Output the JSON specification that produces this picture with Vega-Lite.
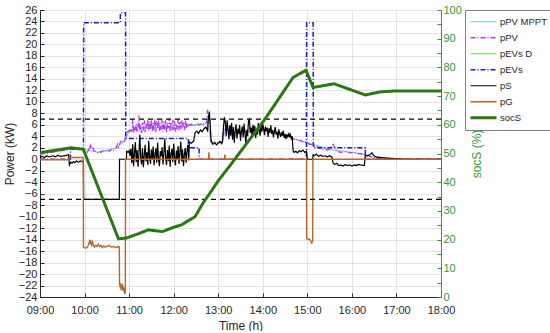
{
  "$schema": "https://vega.github.io/schema/vega-lite/v6.json",
  "width": 401,
  "height": 287,
  "padding": {"left": 3, "top": 4, "right": 0, "bottom": 0},
  "config": {
    "font": "Liberation Sans",
    "view": {"stroke": "#8c8c8c", "strokeWidth": 1},
    "axis": {"labelFont": "Liberation Sans", "titleFont": "Liberation Sans", "labelFontSize": 11, "titleFontSize": 12, "titleFontWeight": "normal", "labelColor": "#262626", "titleColor": "#262626", "gridColor": "#e3e3e3", "gridWidth": 1, "domainColor": "#262626", "tickColor": "#262626", "labelFlush": false, "labelOverlap": false},
    "legend": {"labelFont": "Liberation Sans"}
  },
  "datasets": {
    "power": [
      {"s":"pPV MPPT","t":9.0,"v":0.9},{"s":"pPV MPPT","t":9.68,"v":1.8},{"s":"pPV MPPT","t":9.95,"v":1.8},{"s":"pPV MPPT","t":10.3,"v":1.2},{"s":"pPV MPPT","t":10.7,"v":1.9},{"s":"pPV MPPT","t":10.9,"v":3.2},{"s":"pPV MPPT","t":11.0,"v":5.0},{"s":"pPV MPPT","t":11.5,"v":5.5},{"s":"pPV MPPT","t":12.0,"v":5.6},{"s":"pPV MPPT","t":12.3,"v":5.8},{"s":"pPV MPPT","t":12.7,"v":6.1},{"s":"pPV MPPT","t":12.76,"v":6.5},{"s":"pPV MPPT","t":12.84,"v":3.0},{"s":"pPV MPPT","t":13.0,"v":2.9},{"s":"pPV MPPT","t":13.1,"v":3.0},{"s":"pPV MPPT","t":13.15,"v":5.0},{"s":"pPV MPPT","t":13.5,"v":4.8},{"s":"pPV MPPT","t":14.0,"v":5.0},{"s":"pPV MPPT","t":14.5,"v":4.2},{"s":"pPV MPPT","t":14.66,"v":3.8},{"s":"pPV MPPT","t":14.7,"v":3.5},{"s":"pPV MPPT","t":15.0,"v":2.9},{"s":"pPV MPPT","t":15.5,"v":1.7},{"s":"pPV MPPT","t":16.0,"v":1.2},{"s":"pPV MPPT","t":16.3,"v":0.8},{"s":"pPV MPPT","t":16.5,"v":0.3},{"s":"pPV MPPT","t":17.0,"v":0.05},{"s":"pPV MPPT","t":18.0,"v":0},

      {"s":"pPV","t":9.0,"v":0.9},{"s":"pPV","t":9.2,"v":1.1},{"s":"pPV","t":9.4,"v":1.4},{"s":"pPV","t":9.6,"v":1.6},{"s":"pPV","t":9.68,"v":1.8},{"s":"pPV","t":9.8,"v":1.8},{"s":"pPV","t":9.95,"v":1.8},{"s":"pPV","t":10.0,"v":1.5},{"s":"pPV","t":10.03,"v":1.0},{"s":"pPV","t":10.06,"v":1.2},{"s":"pPV","t":10.09,"v":1.6},{"s":"pPV","t":10.11,"v":2.3},{"s":"pPV","t":10.12,"v":1.8},{"s":"pPV","t":10.14,"v":2.4},{"s":"pPV","t":10.16,"v":1.9},{"s":"pPV","t":10.18,"v":2.2},{"s":"pPV","t":10.21,"v":1.5},{"s":"pPV","t":10.25,"v":1.3},{"s":"pPV","t":10.29,"v":1.1},{"s":"pPV","t":10.33,"v":1.4},{"s":"pPV","t":10.37,"v":1.2},{"s":"pPV","t":10.41,"v":1.5},{"s":"pPV","t":10.45,"v":1.3},{"s":"pPV","t":10.5,"v":1.6},{"s":"pPV","t":10.55,"v":1.4},{"s":"pPV","t":10.6,"v":1.7},{"s":"pPV","t":10.65,"v":1.5},{"s":"pPV","t":10.7,"v":1.9},{"s":"pPV","t":10.74,"v":2.6},{"s":"pPV","t":10.76,"v":2.1},{"s":"pPV","t":10.8,"v":2.9},{"s":"pPV","t":10.83,"v":3.3},{"s":"pPV","t":10.86,"v":2.8},{"s":"pPV","t":10.9,"v":3.2},{"s":"pPV","t":10.93,"v":4.4},{"s":"pPV","t":10.96,"v":4.8},
      {"s":"pPV","t":11.0,"v":5.0},{"s":"pPV","t":11.02,"v":4.6},{"s":"pPV","t":11.04,"v":5.3},{"s":"pPV","t":11.06,"v":4.8},{"s":"pPV","t":11.08,"v":6.9},{"s":"pPV","t":11.1,"v":4.5},{"s":"pPV","t":11.12,"v":5.6},{"s":"pPV","t":11.14,"v":4.9},{"s":"pPV","t":11.16,"v":6.2},{"s":"pPV","t":11.18,"v":4.7},{"s":"pPV","t":11.2,"v":5.5},{"s":"pPV","t":11.22,"v":7.6},{"s":"pPV","t":11.24,"v":4.8},{"s":"pPV","t":11.26,"v":5.9},{"s":"pPV","t":11.28,"v":4.6},{"s":"pPV","t":11.3,"v":6.4},{"s":"pPV","t":11.32,"v":5.0},{"s":"pPV","t":11.34,"v":6.8},{"s":"pPV","t":11.36,"v":4.7},{"s":"pPV","t":11.38,"v":6.1},{"s":"pPV","t":11.4,"v":5.2},{"s":"pPV","t":11.42,"v":7.0},{"s":"pPV","t":11.44,"v":4.9},{"s":"pPV","t":11.46,"v":6.5},{"s":"pPV","t":11.48,"v":5.1},{"s":"pPV","t":11.5,"v":6.9},{"s":"pPV","t":11.52,"v":4.8},{"s":"pPV","t":11.54,"v":6.3},{"s":"pPV","t":11.56,"v":5.0},{"s":"pPV","t":11.58,"v":7.1},{"s":"pPV","t":11.6,"v":4.7},{"s":"pPV","t":11.62,"v":6.6},{"s":"pPV","t":11.64,"v":5.3},{"s":"pPV","t":11.66,"v":6.9},{"s":"pPV","t":11.68,"v":4.9},{"s":"pPV","t":11.7,"v":6.2},{"s":"pPV","t":11.72,"v":5.1},{"s":"pPV","t":11.74,"v":7.0},{"s":"pPV","t":11.76,"v":4.8},{"s":"pPV","t":11.78,"v":6.5},{"s":"pPV","t":11.8,"v":5.2},{"s":"pPV","t":11.82,"v":6.8},{"s":"pPV","t":11.84,"v":4.6},{"s":"pPV","t":11.86,"v":6.4},{"s":"pPV","t":11.88,"v":5.4},{"s":"pPV","t":11.9,"v":7.1},{"s":"pPV","t":11.92,"v":4.9},{"s":"pPV","t":11.94,"v":6.3},{"s":"pPV","t":11.96,"v":5.0},{"s":"pPV","t":11.98,"v":6.9},{"s":"pPV","t":12.0,"v":5.1},{"s":"pPV","t":12.02,"v":6.6},{"s":"pPV","t":12.04,"v":4.8},{"s":"pPV","t":12.06,"v":6.2},{"s":"pPV","t":12.08,"v":5.3},{"s":"pPV","t":12.1,"v":6.9},{"s":"pPV","t":12.12,"v":5.0},{"s":"pPV","t":12.14,"v":6.5},{"s":"pPV","t":12.16,"v":5.2},{"s":"pPV","t":12.18,"v":6.8},{"s":"pPV","t":12.2,"v":5.4},{"s":"pPV","t":12.22,"v":6.4},{"s":"pPV","t":12.24,"v":5.1},{"s":"pPV","t":12.26,"v":6.7},{"s":"pPV","t":12.28,"v":5.3},{"s":"pPV","t":12.3,"v":6.3},{"s":"pPV","t":12.32,"v":5.6},{"s":"pPV","t":12.34,"v":6.0},{"s":"pPV","t":12.4,"v":6.1},{"s":"pPV","t":12.46,"v":5.9},{"s":"pPV","t":12.52,"v":6.2},{"s":"pPV","t":12.58,"v":6.0},{"s":"pPV","t":12.64,"v":6.3},{"s":"pPV","t":12.7,"v":6.1},{"s":"pPV","t":12.74,"v":6.5},{"s":"pPV","t":12.76,"v":8.6},{"s":"pPV","t":12.78,"v":6.9},{"s":"pPV","t":12.8,"v":7.5},{"s":"pPV","t":12.82,"v":5.5},{"s":"pPV","t":12.84,"v":3.0},{"s":"pPV","t":12.9,"v":2.8},{"s":"pPV","t":13.0,"v":2.9},{"s":"pPV","t":13.08,"v":2.9},{"s":"pPV","t":13.12,"v":5.0},{"s":"pPV","t":13.16,"v":5.5},{"s":"pPV","t":13.2,"v":5.2},{"s":"pPV","t":13.3,"v":4.8},{"s":"pPV","t":13.4,"v":4.9},{"s":"pPV","t":13.5,"v":4.6},{"s":"pPV","t":13.6,"v":4.7},{"s":"pPV","t":13.7,"v":5.4},{"s":"pPV","t":13.8,"v":5.2},{"s":"pPV","t":13.9,"v":5.0},{"s":"pPV","t":14.0,"v":5.3},{"s":"pPV","t":14.1,"v":4.9},{"s":"pPV","t":14.2,"v":4.8},{"s":"pPV","t":14.3,"v":4.6},{"s":"pPV","t":14.4,"v":4.3},{"s":"pPV","t":14.5,"v":4.1},{"s":"pPV","t":14.6,"v":4.0},{"s":"pPV","t":14.66,"v":3.8},{"s":"pPV","t":14.68,"v":3.6},{"s":"pPV","t":14.72,"v":3.4},{"s":"pPV","t":14.76,"v":3.5},{"s":"pPV","t":14.8,"v":3.2},{"s":"pPV","t":14.85,"v":3.3},{"s":"pPV","t":14.9,"v":3.0},{"s":"pPV","t":14.95,"v":3.1},{"s":"pPV","t":15.0,"v":2.9},{"s":"pPV","t":15.05,"v":2.6},{"s":"pPV","t":15.1,"v":2.5},{"s":"pPV","t":15.15,"v":2.3},{"s":"pPV","t":15.2,"v":2.4},{"s":"pPV","t":15.25,"v":2.0},{"s":"pPV","t":15.3,"v":1.9},{"s":"pPV","t":15.35,"v":1.7},{"s":"pPV","t":15.4,"v":1.8},{"s":"pPV","t":15.45,"v":1.6},{"s":"pPV","t":15.5,"v":1.7},{"s":"pPV","t":15.55,"v":2.4},{"s":"pPV","t":15.58,"v":2.6},{"s":"pPV","t":15.62,"v":1.9},{"s":"pPV","t":15.66,"v":1.4},{"s":"pPV","t":15.75,"v":1.2},{"s":"pPV","t":15.85,"v":1.3},{"s":"pPV","t":15.95,"v":1.1},{"s":"pPV","t":16.05,"v":1.2},{"s":"pPV","t":16.15,"v":1.0},{"s":"pPV","t":16.25,"v":0.9},{"s":"pPV","t":16.3,"v":0.8},{"s":"pPV","t":16.4,"v":0.5},{"s":"pPV","t":16.5,"v":0.3},{"s":"pPV","t":16.6,"v":0.2},{"s":"pPV","t":16.8,"v":0.1},{"s":"pPV","t":17.0,"v":0.05},{"s":"pPV","t":18.0,"v":0.0},

      {"s":"pEVs","t":9.0,"v":0},{"s":"pEVs","t":9.68,"v":0},{"s":"pEVs","t":9.685,"v":1.8},{"s":"pEVs","t":9.975,"v":1.8},{"s":"pEVs","t":9.98,"v":23.8},{"s":"pEVs","t":10.8,"v":23.8},{"s":"pEVs","t":10.805,"v":25.5},{"s":"pEVs","t":10.92,"v":25.5},{"s":"pEVs","t":10.925,"v":3.6},{"s":"pEVs","t":12.33,"v":3.6},{"s":"pEVs","t":12.335,"v":2.0},{"s":"pEVs","t":12.57,"v":2.0},{"s":"pEVs","t":12.575,"v":0},{"s":"pEVs","t":14.98,"v":0},{"s":"pEVs","t":14.985,"v":23.8},{"s":"pEVs","t":15.13,"v":23.8},{"s":"pEVs","t":15.135,"v":2.0},{"s":"pEVs","t":16.3,"v":2.0},{"s":"pEVs","t":16.305,"v":0},{"s":"pEVs","t":18.0,"v":0},

      {"s":"pS","t":9.0,"v":0.3},{"s":"pS","t":9.05,"v":0.5},{"s":"pS","t":9.1,"v":0.3},{"s":"pS","t":9.15,"v":0.6},{"s":"pS","t":9.2,"v":0.4},{"s":"pS","t":9.25,"v":0.5},{"s":"pS","t":9.3,"v":0.6},{"s":"pS","t":9.35,"v":0.4},{"s":"pS","t":9.4,"v":0.7},{"s":"pS","t":9.45,"v":0.5},{"s":"pS","t":9.55,"v":0.6},{"s":"pS","t":9.64,"v":0.8},{"s":"pS","t":9.66,"v":-1.0},{"s":"pS","t":9.69,"v":-0.5},{"s":"pS","t":9.72,"v":-0.7},{"s":"pS","t":9.75,"v":-0.4},{"s":"pS","t":9.78,"v":-0.6},{"s":"pS","t":9.82,"v":-0.3},{"s":"pS","t":9.86,"v":-0.5},{"s":"pS","t":9.9,"v":-0.3},{"s":"pS","t":9.94,"v":-0.4},{"s":"pS","t":9.975,"v":-0.3},{"s":"pS","t":9.98,"v":-7.0},{"s":"pS","t":10.78,"v":-7.0},{"s":"pS","t":10.785,"v":0.0},{"s":"pS","t":10.94,"v":0.0},{"s":"pS","t":10.945,"v":1.4},{"s":"pS","t":10.98,"v":1.2},
      {"s":"pS","t":11.0,"v":1.5},{"s":"pS","t":11.02,"v":0.6},{"s":"pS","t":11.04,"v":1.8},{"s":"pS","t":11.06,"v":-0.7},{"s":"pS","t":11.08,"v":2.6},{"s":"pS","t":11.1,"v":-1.2},{"s":"pS","t":11.12,"v":1.1},{"s":"pS","t":11.14,"v":3.0},{"s":"pS","t":11.16,"v":-0.5},{"s":"pS","t":11.18,"v":1.6},{"s":"pS","t":11.2,"v":-1.3},{"s":"pS","t":11.22,"v":0.9},{"s":"pS","t":11.24,"v":4.3},{"s":"pS","t":11.26,"v":0.2},{"s":"pS","t":11.28,"v":-0.9},{"s":"pS","t":11.3,"v":1.9},{"s":"pS","t":11.32,"v":-1.4},{"s":"pS","t":11.34,"v":0.7},{"s":"pS","t":11.36,"v":2.5},{"s":"pS","t":11.38,"v":-0.4},{"s":"pS","t":11.4,"v":1.2},{"s":"pS","t":11.42,"v":-1.0},{"s":"pS","t":11.44,"v":3.2},{"s":"pS","t":11.46,"v":0.3},{"s":"pS","t":11.48,"v":-0.8},{"s":"pS","t":11.5,"v":1.7},{"s":"pS","t":11.52,"v":0.1},{"s":"pS","t":11.54,"v":2.2},{"s":"pS","t":11.56,"v":-1.1},{"s":"pS","t":11.58,"v":0.8},{"s":"pS","t":11.6,"v":1.9},{"s":"pS","t":11.62,"v":-0.6},{"s":"pS","t":11.64,"v":2.9},{"s":"pS","t":11.66,"v":0.0},{"s":"pS","t":11.68,"v":-1.2},{"s":"pS","t":11.7,"v":1.4},{"s":"pS","t":11.72,"v":0.5},{"s":"pS","t":11.74,"v":2.1},{"s":"pS","t":11.76,"v":-0.9},{"s":"pS","t":11.78,"v":1.0},{"s":"pS","t":11.8,"v":3.6},{"s":"pS","t":11.82,"v":0.2},{"s":"pS","t":11.84,"v":-1.0},{"s":"pS","t":11.86,"v":1.6},{"s":"pS","t":11.88,"v":-0.3},{"s":"pS","t":11.9,"v":2.4},{"s":"pS","t":11.92,"v":-1.3},{"s":"pS","t":11.94,"v":0.9},{"s":"pS","t":11.96,"v":1.8},{"s":"pS","t":11.98,"v":-0.5},{"s":"pS","t":12.0,"v":2.7},{"s":"pS","t":12.02,"v":0.4},{"s":"pS","t":12.04,"v":-1.1},{"s":"pS","t":12.06,"v":1.5},{"s":"pS","t":12.08,"v":0.0},{"s":"pS","t":12.1,"v":2.3},{"s":"pS","t":12.12,"v":-0.8},{"s":"pS","t":12.14,"v":1.2},{"s":"pS","t":12.16,"v":3.1},{"s":"pS","t":12.18,"v":-0.4},{"s":"pS","t":12.2,"v":1.7},{"s":"pS","t":12.22,"v":-1.2},{"s":"pS","t":12.24,"v":0.8},{"s":"pS","t":12.26,"v":2.0},{"s":"pS","t":12.28,"v":-0.6},{"s":"pS","t":12.3,"v":1.4},{"s":"pS","t":12.32,"v":2.5},{"s":"pS","t":12.34,"v":-0.2},{"s":"pS","t":12.35,"v":3.0},{"s":"pS","t":12.4,"v":2.8},{"s":"pS","t":12.45,"v":3.2},{"s":"pS","t":12.48,"v":4.6},{"s":"pS","t":12.52,"v":4.9},{"s":"pS","t":12.56,"v":4.5},{"s":"pS","t":12.6,"v":5.1},{"s":"pS","t":12.64,"v":4.8},{"s":"pS","t":12.68,"v":5.3},{"s":"pS","t":12.72,"v":5.6},{"s":"pS","t":12.76,"v":5.0},{"s":"pS","t":12.78,"v":7.2},{"s":"pS","t":12.8,"v":8.3},{"s":"pS","t":12.82,"v":6.0},{"s":"pS","t":12.84,"v":3.2},{"s":"pS","t":12.88,"v":2.6},{"s":"pS","t":12.92,"v":2.9},{"s":"pS","t":12.96,"v":2.5},{"s":"pS","t":13.0,"v":2.8},{"s":"pS","t":13.04,"v":3.1},{"s":"pS","t":13.08,"v":2.7},{"s":"pS","t":13.1,"v":3.4},{"s":"pS","t":13.12,"v":5.8},{"s":"pS","t":13.14,"v":7.3},{"s":"pS","t":13.16,"v":6.4},{"s":"pS","t":13.18,"v":4.0},{"s":"pS","t":13.2,"v":6.8},{"s":"pS","t":13.22,"v":5.2},{"s":"pS","t":13.24,"v":3.5},{"s":"pS","t":13.26,"v":5.9},{"s":"pS","t":13.28,"v":4.1},{"s":"pS","t":13.3,"v":6.3},{"s":"pS","t":13.32,"v":3.4},{"s":"pS","t":13.34,"v":5.6},{"s":"pS","t":13.36,"v":2.9},{"s":"pS","t":13.38,"v":4.8},{"s":"pS","t":13.4,"v":6.1},{"s":"pS","t":13.42,"v":3.6},{"s":"pS","t":13.44,"v":5.3},{"s":"pS","t":13.46,"v":4.4},{"s":"pS","t":13.48,"v":6.0},{"s":"pS","t":13.5,"v":3.2},{"s":"pS","t":13.52,"v":4.9},{"s":"pS","t":13.54,"v":5.7},{"s":"pS","t":13.56,"v":3.8},{"s":"pS","t":13.58,"v":6.2},{"s":"pS","t":13.6,"v":4.5},{"s":"pS","t":13.62,"v":2.7},{"s":"pS","t":13.64,"v":5.1},{"s":"pS","t":13.66,"v":4.0},{"s":"pS","t":13.68,"v":6.8},{"s":"pS","t":13.7,"v":7.0},{"s":"pS","t":13.72,"v":4.6},{"s":"pS","t":13.74,"v":5.5},{"s":"pS","t":13.76,"v":3.9},{"s":"pS","t":13.78,"v":6.0},{"s":"pS","t":13.8,"v":4.7},{"s":"pS","t":13.82,"v":5.8},{"s":"pS","t":13.84,"v":3.7},{"s":"pS","t":13.86,"v":5.2},{"s":"pS","t":13.88,"v":4.3},{"s":"pS","t":13.9,"v":6.3},{"s":"pS","t":13.92,"v":5.0},{"s":"pS","t":13.94,"v":4.1},{"s":"pS","t":13.96,"v":5.9},{"s":"pS","t":13.98,"v":4.8},{"s":"pS","t":14.0,"v":6.1},{"s":"pS","t":14.02,"v":5.3},{"s":"pS","t":14.04,"v":4.2},{"s":"pS","t":14.06,"v":5.7},{"s":"pS","t":14.08,"v":4.9},{"s":"pS","t":14.1,"v":5.5},{"s":"pS","t":14.12,"v":3.9},{"s":"pS","t":14.14,"v":5.4},{"s":"pS","t":14.16,"v":4.6},{"s":"pS","t":14.18,"v":5.9},{"s":"pS","t":14.2,"v":4.4},{"s":"pS","t":14.22,"v":5.1},{"s":"pS","t":14.24,"v":3.8},{"s":"pS","t":14.26,"v":4.9},{"s":"pS","t":14.28,"v":5.6},{"s":"pS","t":14.3,"v":4.3},{"s":"pS","t":14.32,"v":4.8},{"s":"pS","t":14.34,"v":3.6},{"s":"pS","t":14.36,"v":5.2},{"s":"pS","t":14.38,"v":4.5},{"s":"pS","t":14.4,"v":3.9},{"s":"pS","t":14.42,"v":4.7},{"s":"pS","t":14.44,"v":4.1},{"s":"pS","t":14.46,"v":5.0},{"s":"pS","t":14.48,"v":3.7},{"s":"pS","t":14.5,"v":4.4},{"s":"pS","t":14.52,"v":3.5},{"s":"pS","t":14.54,"v":4.2},{"s":"pS","t":14.56,"v":3.9},{"s":"pS","t":14.58,"v":4.6},{"s":"pS","t":14.6,"v":3.8},{"s":"pS","t":14.62,"v":4.3},{"s":"pS","t":14.64,"v":3.6},{"s":"pS","t":14.66,"v":4.0},{"s":"pS","t":14.68,"v":1.5},{"s":"pS","t":14.7,"v":1.2},{"s":"pS","t":14.74,"v":1.4},{"s":"pS","t":14.78,"v":1.1},{"s":"pS","t":14.82,"v":1.5},{"s":"pS","t":14.86,"v":1.3},{"s":"pS","t":14.9,"v":1.6},{"s":"pS","t":14.94,"v":1.2},{"s":"pS","t":14.98,"v":1.4},{"s":"pS","t":15.0,"v":0.0},{"s":"pS","t":15.12,"v":0.0},{"s":"pS","t":15.13,"v":0.8},{"s":"pS","t":15.16,"v":0.6},{"s":"pS","t":15.2,"v":0.9},{"s":"pS","t":15.25,"v":0.5},{"s":"pS","t":15.3,"v":0.7},{"s":"pS","t":15.35,"v":0.5},{"s":"pS","t":15.4,"v":0.6},{"s":"pS","t":15.45,"v":0.4},{"s":"pS","t":15.5,"v":0.6},{"s":"pS","t":15.55,"v":0.4},{"s":"pS","t":15.58,"v":-0.7},{"s":"pS","t":15.62,"v":-0.9},{"s":"pS","t":15.66,"v":-0.7},{"s":"pS","t":15.7,"v":-1.1},{"s":"pS","t":15.75,"v":-1.0},{"s":"pS","t":15.8,"v":-1.2},{"s":"pS","t":15.85,"v":-0.9},{"s":"pS","t":15.9,"v":-1.1},{"s":"pS","t":15.95,"v":-1.0},{"s":"pS","t":16.0,"v":-1.2},{"s":"pS","t":16.05,"v":-1.0},{"s":"pS","t":16.1,"v":-1.1},{"s":"pS","t":16.15,"v":-0.9},{"s":"pS","t":16.2,"v":-1.0},{"s":"pS","t":16.28,"v":-1.1},{"s":"pS","t":16.3,"v":0.7},{"s":"pS","t":16.35,"v":0.6},{"s":"pS","t":16.4,"v":0.8},{"s":"pS","t":16.45,"v":1.1},{"s":"pS","t":16.5,"v":0.6},{"s":"pS","t":16.55,"v":0.4},{"s":"pS","t":16.65,"v":0.3},{"s":"pS","t":16.8,"v":0.2},{"s":"pS","t":17.0,"v":0.1},{"s":"pS","t":17.2,"v":0.0},{"s":"pS","t":18.0,"v":0.0},

      {"s":"pG","t":9.0,"v":-0.1},{"s":"pG","t":9.64,"v":-0.1},{"s":"pG","t":9.66,"v":0.3},{"s":"pG","t":9.97,"v":0.3},{"s":"pG","t":9.975,"v":-15.3},{"s":"pG","t":10.02,"v":-15.5},{"s":"pG","t":10.05,"v":-15.4},{"s":"pG","t":10.08,"v":-15.1},{"s":"pG","t":10.1,"v":-14.6},{"s":"pG","t":10.12,"v":-14.0},{"s":"pG","t":10.13,"v":-14.8},{"s":"pG","t":10.14,"v":-14.2},{"s":"pG","t":10.16,"v":-14.9},{"s":"pG","t":10.18,"v":-14.4},{"s":"pG","t":10.2,"v":-15.1},{"s":"pG","t":10.22,"v":-15.3},{"s":"pG","t":10.25,"v":-15.0},{"s":"pG","t":10.28,"v":-15.2},{"s":"pG","t":10.31,"v":-14.8},{"s":"pG","t":10.34,"v":-15.2},{"s":"pG","t":10.37,"v":-15.0},{"s":"pG","t":10.4,"v":-15.4},{"s":"pG","t":10.43,"v":-15.1},{"s":"pG","t":10.46,"v":-15.3},{"s":"pG","t":10.5,"v":-15.2},{"s":"pG","t":10.55,"v":-15.0},{"s":"pG","t":10.6,"v":-15.3},{"s":"pG","t":10.65,"v":-15.2},{"s":"pG","t":10.7,"v":-15.4},{"s":"pG","t":10.75,"v":-15.2},{"s":"pG","t":10.78,"v":-15.3},{"s":"pG","t":10.785,"v":-21.8},{"s":"pG","t":10.8,"v":-22.3},{"s":"pG","t":10.81,"v":-21.6},{"s":"pG","t":10.82,"v":-22.8},{"s":"pG","t":10.83,"v":-22.0},{"s":"pG","t":10.84,"v":-22.5},{"s":"pG","t":10.85,"v":-21.7},{"s":"pG","t":10.86,"v":-22.9},{"s":"pG","t":10.87,"v":-22.2},{"s":"pG","t":10.88,"v":-23.0},{"s":"pG","t":10.89,"v":-22.4},{"s":"pG","t":10.9,"v":-23.5},{"s":"pG","t":10.91,"v":-22.6},{"s":"pG","t":10.915,"v":-23.3},{"s":"pG","t":10.92,"v":0.0},{"s":"pG","t":12.78,"v":0.0},{"s":"pG","t":12.79,"v":1.2},{"s":"pG","t":12.8,"v":0.0},{"s":"pG","t":13.14,"v":0.0},{"s":"pG","t":13.15,"v":0.8},{"s":"pG","t":13.16,"v":0.0},{"s":"pG","t":14.98,"v":0.0},{"s":"pG","t":14.985,"v":-13.8},{"s":"pG","t":15.02,"v":-14.0},{"s":"pG","t":15.05,"v":-13.9},{"s":"pG","t":15.08,"v":-14.3},{"s":"pG","t":15.1,"v":-14.6},{"s":"pG","t":15.12,"v":-14.2},{"s":"pG","t":15.125,"v":0.0},{"s":"pG","t":18.0,"v":0.0}
    ],
    "soc": [
      {"s":"socS","t":9.0,"v":50.3},{"s":"socS","t":9.7,"v":52.0},{"s":"socS","t":9.97,"v":51.5},{"s":"socS","t":10.76,"v":20.3},{"s":"socS","t":10.93,"v":20.5},{"s":"socS","t":11.2,"v":22.0},{"s":"socS","t":11.43,"v":23.4},{"s":"socS","t":11.75,"v":22.8},{"s":"socS","t":12.0,"v":24.3},{"s":"socS","t":12.17,"v":25.1},{"s":"socS","t":12.48,"v":28.0},{"s":"socS","t":12.67,"v":33.0},{"s":"socS","t":12.85,"v":37.0},{"s":"socS","t":13.0,"v":40.5},{"s":"socS","t":13.25,"v":45.5},{"s":"socS","t":14.05,"v":62.0},{"s":"socS","t":14.68,"v":76.5},{"s":"socS","t":14.97,"v":79.0},{"s":"socS","t":15.13,"v":73.0},{"s":"socS","t":15.6,"v":74.3},{"s":"socS","t":16.3,"v":70.4},{"s":"socS","t":16.65,"v":71.5},{"s":"socS","t":17.0,"v":71.8},{"s":"socS","t":18.0,"v":71.8}
    ],
    "refs": [{"v": 7}, {"v": -7}]
  },
  "encoding": {
    "color": {"field": "s", "type": "nominal", "scale": {"domain": ["pPV MPPT","pPV","pEVs D","pEVs","pS","pG","socS"], "range": ["#5ab4f0","#b43cf0","#66d936","#1a1acc","#000000","#b8652e","#2c7614"]},
      "legend": {"title": null, "orient": "none", "legendX": 425, "legendY": 0, "symbolType": "stroke", "symbolSize": 676, "labelFontSize": 9.5, "labelColor": "#262626", "strokeColor": "#808080", "fillColor": "white", "padding": 4, "rowPadding": 0, "clipHeight": 15.5, "labelOffset": 2}},
    "strokeDash": {"field": "s", "type": "nominal", "scale": {"domain": ["pPV MPPT","pPV","pEVs D","pEVs","pS","pG","socS"], "range": [[1,0],[5,2,1,2],[1,0],[5,2,1,2],[1,0],[1,0],[1,0]]},
      "legend": {"title": null, "orient": "none", "legendX": 425, "legendY": 0, "symbolType": "stroke", "symbolSize": 676, "labelFontSize": 9.5, "labelColor": "#262626", "strokeColor": "#808080", "fillColor": "white", "padding": 4, "rowPadding": 0, "clipHeight": 15.5, "labelOffset": 2}},
    "strokeWidth": {"field": "s", "type": "nominal", "scale": {"type": "ordinal", "domain": ["pPV MPPT","pPV","pEVs D","pEVs","pS","pG","socS"], "range": [1,1.3,1.2,1.5,1.2,1.4,3]},
      "legend": {"title": null, "orient": "none", "legendX": 425, "legendY": 0, "symbolType": "stroke", "symbolSize": 676, "labelFontSize": 9.5, "labelColor": "#262626", "strokeColor": "#808080", "fillColor": "white", "padding": 4, "rowPadding": 0, "clipHeight": 15.5, "labelOffset": 2}}
  },
  "resolve": {"scale": {"y": "independent"}},
  "layer": [
    {
      "encoding": {
        "y": {"field": "v", "type": "quantitative", "title": "Power (kW)", "scale": {"domain": [-24, 26], "nice": false, "zero": false},
          "axis": {"values": [-24,-22,-20,-18,-16,-14,-12,-10,-8,-6,-4,-2,0,2,4,6,8,10,12,14,16,18,20,22,24,26], "grid": true, "tickSize": -4, "labelPadding": 7, "titlePadding": 2}}
      },
      "layer": [
        {
          "data": {"name": "power"},
          "transform": [{"filter": "datum.s == 'pPV MPPT'"}],
          "mark": {"type": "line"},
          "encoding": {
            "x": {"field": "t", "type": "quantitative", "title": "Time (h)", "scale": {"domain": [9, 18], "nice": false, "zero": false},
              "axis": {"values": [9,10,11,12,13,14,15,16,17,18], "labelExpr": "(datum.value < 10 ? '0' : '') + datum.value + ':00'", "grid": true, "tickSize": -4, "labelPadding": 11, "titlePadding": 5}}
          }
        },
        {
          "data": {"name": "power"},
          "transform": [{"filter": "datum.s == 'pPV'"}],
          "mark": {"type": "line"},
          "encoding": {"x": {"field": "t", "type": "quantitative"}}
        },
        {
          "data": {"name": "power"},
          "transform": [{"filter": "datum.s == 'pEVs'"}],
          "mark": {"type": "line"},
          "encoding": {"x": {"field": "t", "type": "quantitative"}}
        },
        {
          "data": {"name": "power"},
          "transform": [{"filter": "datum.s == 'pS'"}],
          "mark": {"type": "line"},
          "encoding": {"x": {"field": "t", "type": "quantitative"}}
        },
        {
          "data": {"name": "power"},
          "transform": [{"filter": "datum.s == 'pG'"}],
          "mark": {"type": "line"},
          "encoding": {"x": {"field": "t", "type": "quantitative"}}
        },
        {
          "data": {"name": "refs"},
          "mark": {"type": "rule"},
          "encoding": {
            "color": {"value": "#000000"},
            "strokeDash": {"value": [5, 4]},
            "strokeWidth": {"value": 1.2}
          }
        }
      ]
    },
    {
      "data": {"name": "soc"},
      "mark": {"type": "line"},
      "encoding": {
        "x": {"field": "t", "type": "quantitative"},
        "y": {"field": "v", "type": "quantitative", "title": "socS (%)", "scale": {"domain": [0, 100], "nice": false},
          "axis": {"orient": "right", "values": [0,5,10,15,20,25,30,35,40,45,50,55,60,65,70,75,80,85,90,95,100], "labelExpr": "datum.value % 10 == 0 ? datum.value : ''", "grid": false, "tickSize": -4, "labelPadding": 6, "labelColor": "#2e9a2e", "titleColor": "#2e9a2e", "domainColor": "#2e9a2e", "tickColor": "#2e9a2e", "titleAngle": 270, "titlePadding": 22, "labelFontSize": 11}}
      }
    }
  ]
}
